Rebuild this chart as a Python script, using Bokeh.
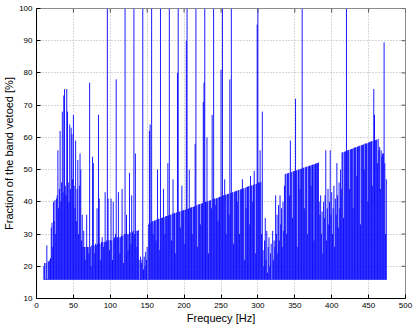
import math
from bokeh.plotting import figure
from bokeh.models import Range1d, FixedTicker, ColumnDataSource
from bokeh.embed import file_html
from bokeh.resources import INLINE

# ---------------- data ----------------
x_ticks = [0, 50, 100, 150, 200, 250, 300, 350, 400, 450, 500]
y_ticks = [10, 20, 30, 40, 50, 60, 70, 80, 90, 100]
x_title = "Frequecy [Hz]"
y_title = "Fraction of the band vetoed [%]"

baseline = 15.8          # floor value of the vetoed fraction [%]
f_first = 10             # first frequency bin [Hz], bins are 1 Hz wide

veto_010_059 = [
    20, 21, 16, 21, 26.5, 16, 21.5, 21.5, 22, 22.5,
    32, 33.5, 26, 40, 34, 40.5, 30, 41, 42, 56,
    38, 44, 62, 40, 46, 68, 43, 73, 75, 45,
    42, 75, 68, 46, 40, 64, 44, 63, 61, 47,
    67, 45, 38, 59, 34, 44, 53, 30, 45, 55,
]
veto_060_109 = [
    50, 28, 36, 26, 31, 26, 22, 26, 36, 26,
    26, 24, 77, 26, 20, 26.5, 54, 52, 26.5, 24,
    27, 26.5, 38, 27, 67, 41, 27, 22, 27.5, 29,
    27.5, 26, 27.5, 43, 27.5, 28, 100, 41, 28, 25,
    28.2, 41, 28, 22, 40, 28.5, 29, 30, 78, 29,
]
veto_110_159 = [
    29, 43, 29, 24, 29, 29.5, 44, 29.5, 21, 30,
    100, 30, 36, 30, 25, 30, 49, 30.5, 27, 42,
    30.5, 31, 100, 30, 55, 31, 26, 31, 31.2, 22,
    16, 23, 21, 22, 100, 19, 23, 20, 24.5, 22,
    26, 16, 33, 62, 64, 33.5, 100, 34, 30, 34,
]
veto_160_209 = [
    34.2, 34.3, 28, 34.5, 50, 34.6, 34.8, 25, 100, 35,
    35, 35.1, 44, 35.3, 30, 35.5, 35.6, 35.6, 52, 35.8,
    100, 36, 36, 28, 36.3, 47, 36.4, 36.5, 24, 36.6,
    36.7, 80, 100, 36.9, 37, 32, 37.1, 45, 37.3, 37.4,
    37.5, 27, 37.6, 90, 100, 37.8, 37.9, 50, 38.1, 38.2,
]
veto_210_259 = [
    38.3, 30, 38.4, 38.5, 38.6, 58, 100, 38.9, 26, 39.1,
    39.2, 39.3, 33, 39.4, 39.5, 39.6, 71, 77, 100, 40,
    40, 60, 40.2, 24, 40.3, 40.4, 40.5, 38, 67, 40.8,
    100, 41, 41, 39, 41.1, 41.2, 34, 41.4, 41.5, 41.6,
    81, 41.7, 100, 42, 42, 47, 42.2, 30, 42.3, 42.4,
]
veto_260_309 = [
    42.5, 36, 78, 42.7, 100, 42.9, 43, 27, 43.1, 43.2,
    43.3, 43.4, 40, 43.6, 43.6, 30, 43.8, 43.9, 44, 47,
    44.1, 44.2, 22, 44.4, 38, 44.6, 44.7, 44.8, 44.9, 33,
    48, 45, 45.1, 40, 45.3, 49.6, 45.5, 24, 45.6, 95,
    100, 46, 46, 56, 46.1, 30, 68, 25, 20, 28,
]
veto_310_359 = [
    35, 22, 31, 18, 26, 29, 20, 24, 27, 16,
    31, 22, 28, 26, 42, 30, 36, 24, 39, 28,
    42, 33, 38, 26, 40, 31, 45, 48.6, 48.7, 30,
    48.8, 48.9, 49, 42, 59, 49.2, 49.3, 35, 49.5, 49.5,
    49.6, 72, 49.8, 49.8, 26, 50, 50.1, 44, 50.2, 50.3,
]
veto_360_409 = [
    100, 50.5, 50.6, 38, 50.7, 50.8, 50.9, 30, 51, 51.1,
    51.2, 51.3, 45, 51.4, 51.5, 51.6, 28, 51.7, 51.8, 51.9,
    52, 52, 52.2, 40, 36, 42, 30, 37, 24, 40,
    35, 42, 56, 28, 38, 44, 33, 40, 56, 36,
    43, 30, 38, 45, 26, 41, 36, 52, 42, 32,
]
veto_410_474 = [
    46, 38, 50, 44, 55.3, 55.4, 35, 55.5, 55.6, 55.7,
    100, 55.9, 56, 56.1, 44, 56.2, 56.3, 56.4, 56.5, 38,
    56.7, 56.8, 56.9, 57, 48, 57.1, 57.2, 57.3, 57.4, 33,
    57.5, 57.6, 57.7, 57.8, 50, 58, 58.1, 58.1, 58.2, 40,
    58.4, 58.5, 58.6, 58.7, 58.8, 45, 58.9, 75, 67, 59.1,
    59.2, 59.3, 52, 59.5, 56, 57, 44, 56, 54, 55,
    55, 89.5, 52, 30, 47,
]

veto = (veto_010_059 + veto_060_109 + veto_110_159 + veto_160_209 +
        veto_210_259 + veto_260_309 + veto_310_359 + veto_360_409 +
        veto_410_474)
freqs = [f_first + i for i in range(len(veto))]

src = ColumnDataSource(dict(f=freqs, v=veto))

# ---------------- figure ----------------
FONT = "Liberation Sans"
X0, X1 = x_ticks[0], x_ticks[-1]
Y0, Y1 = y_ticks[0], y_ticks[-1]

p = figure(width=415, height=326,
           x_range=Range1d(X0, X1), y_range=Range1d(Y0, Y1),
           output_backend="svg", toolbar_location=None,
           min_border_left=35, min_border_right=10,
           min_border_top=8, min_border_bottom=28,
           background_fill_color="white", border_fill_color="white")
p.outline_line_color = "#8c8c8c"
p.outline_line_width = 1

p.segment(x0="f", y0=baseline, x1="f", y1="v", source=src,
          line_color="#0000ff", line_width=0.9)

for ax in (p.xaxis[0], p.yaxis[0]):
    ax.axis_line_color = "black"
    ax.major_tick_in = 4
    ax.major_tick_out = 0
    ax.minor_tick_line_color = None
    ax.major_label_text_font = FONT
    ax.major_label_text_font_size = "8px"
    ax.major_label_text_color = "black"
    ax.major_tick_line_color = "black"
    ax.axis_label_text_font = FONT
    ax.axis_label_text_font_size = "11px"
    ax.axis_label_text_font_style = "normal"
    ax.axis_label_text_color = "black"
p.xaxis.ticker = FixedTicker(ticks=x_ticks)
p.yaxis.ticker = FixedTicker(ticks=y_ticks)
p.xaxis.major_label_standoff = 4
p.yaxis.major_label_standoff = 4
p.xaxis.axis_label = x_title
p.yaxis.axis_label = y_title
p.xaxis.axis_label_standoff = 1
p.yaxis.axis_label_standoff = 1

# inward tick marks on the top and right frame edges
p.ray(x=x_ticks, y=Y1, length=4, length_units="screen", angle=-math.pi / 2,
      line_color="#555555", line_width=1)
p.ray(x=X1, y=y_ticks, length=4, length_units="screen", angle=math.pi,
      line_color="#555555", line_width=1)

for g, tk in ((p.xgrid[0], x_ticks), (p.ygrid[0], y_ticks)):
    g.ticker = FixedTicker(ticks=tk)
    g.grid_line_color = "#b0b0b0"
    g.grid_line_dash = "1 2"
    g.grid_line_width = 1

open("out.html", "w").write(file_html(p, INLINE))
